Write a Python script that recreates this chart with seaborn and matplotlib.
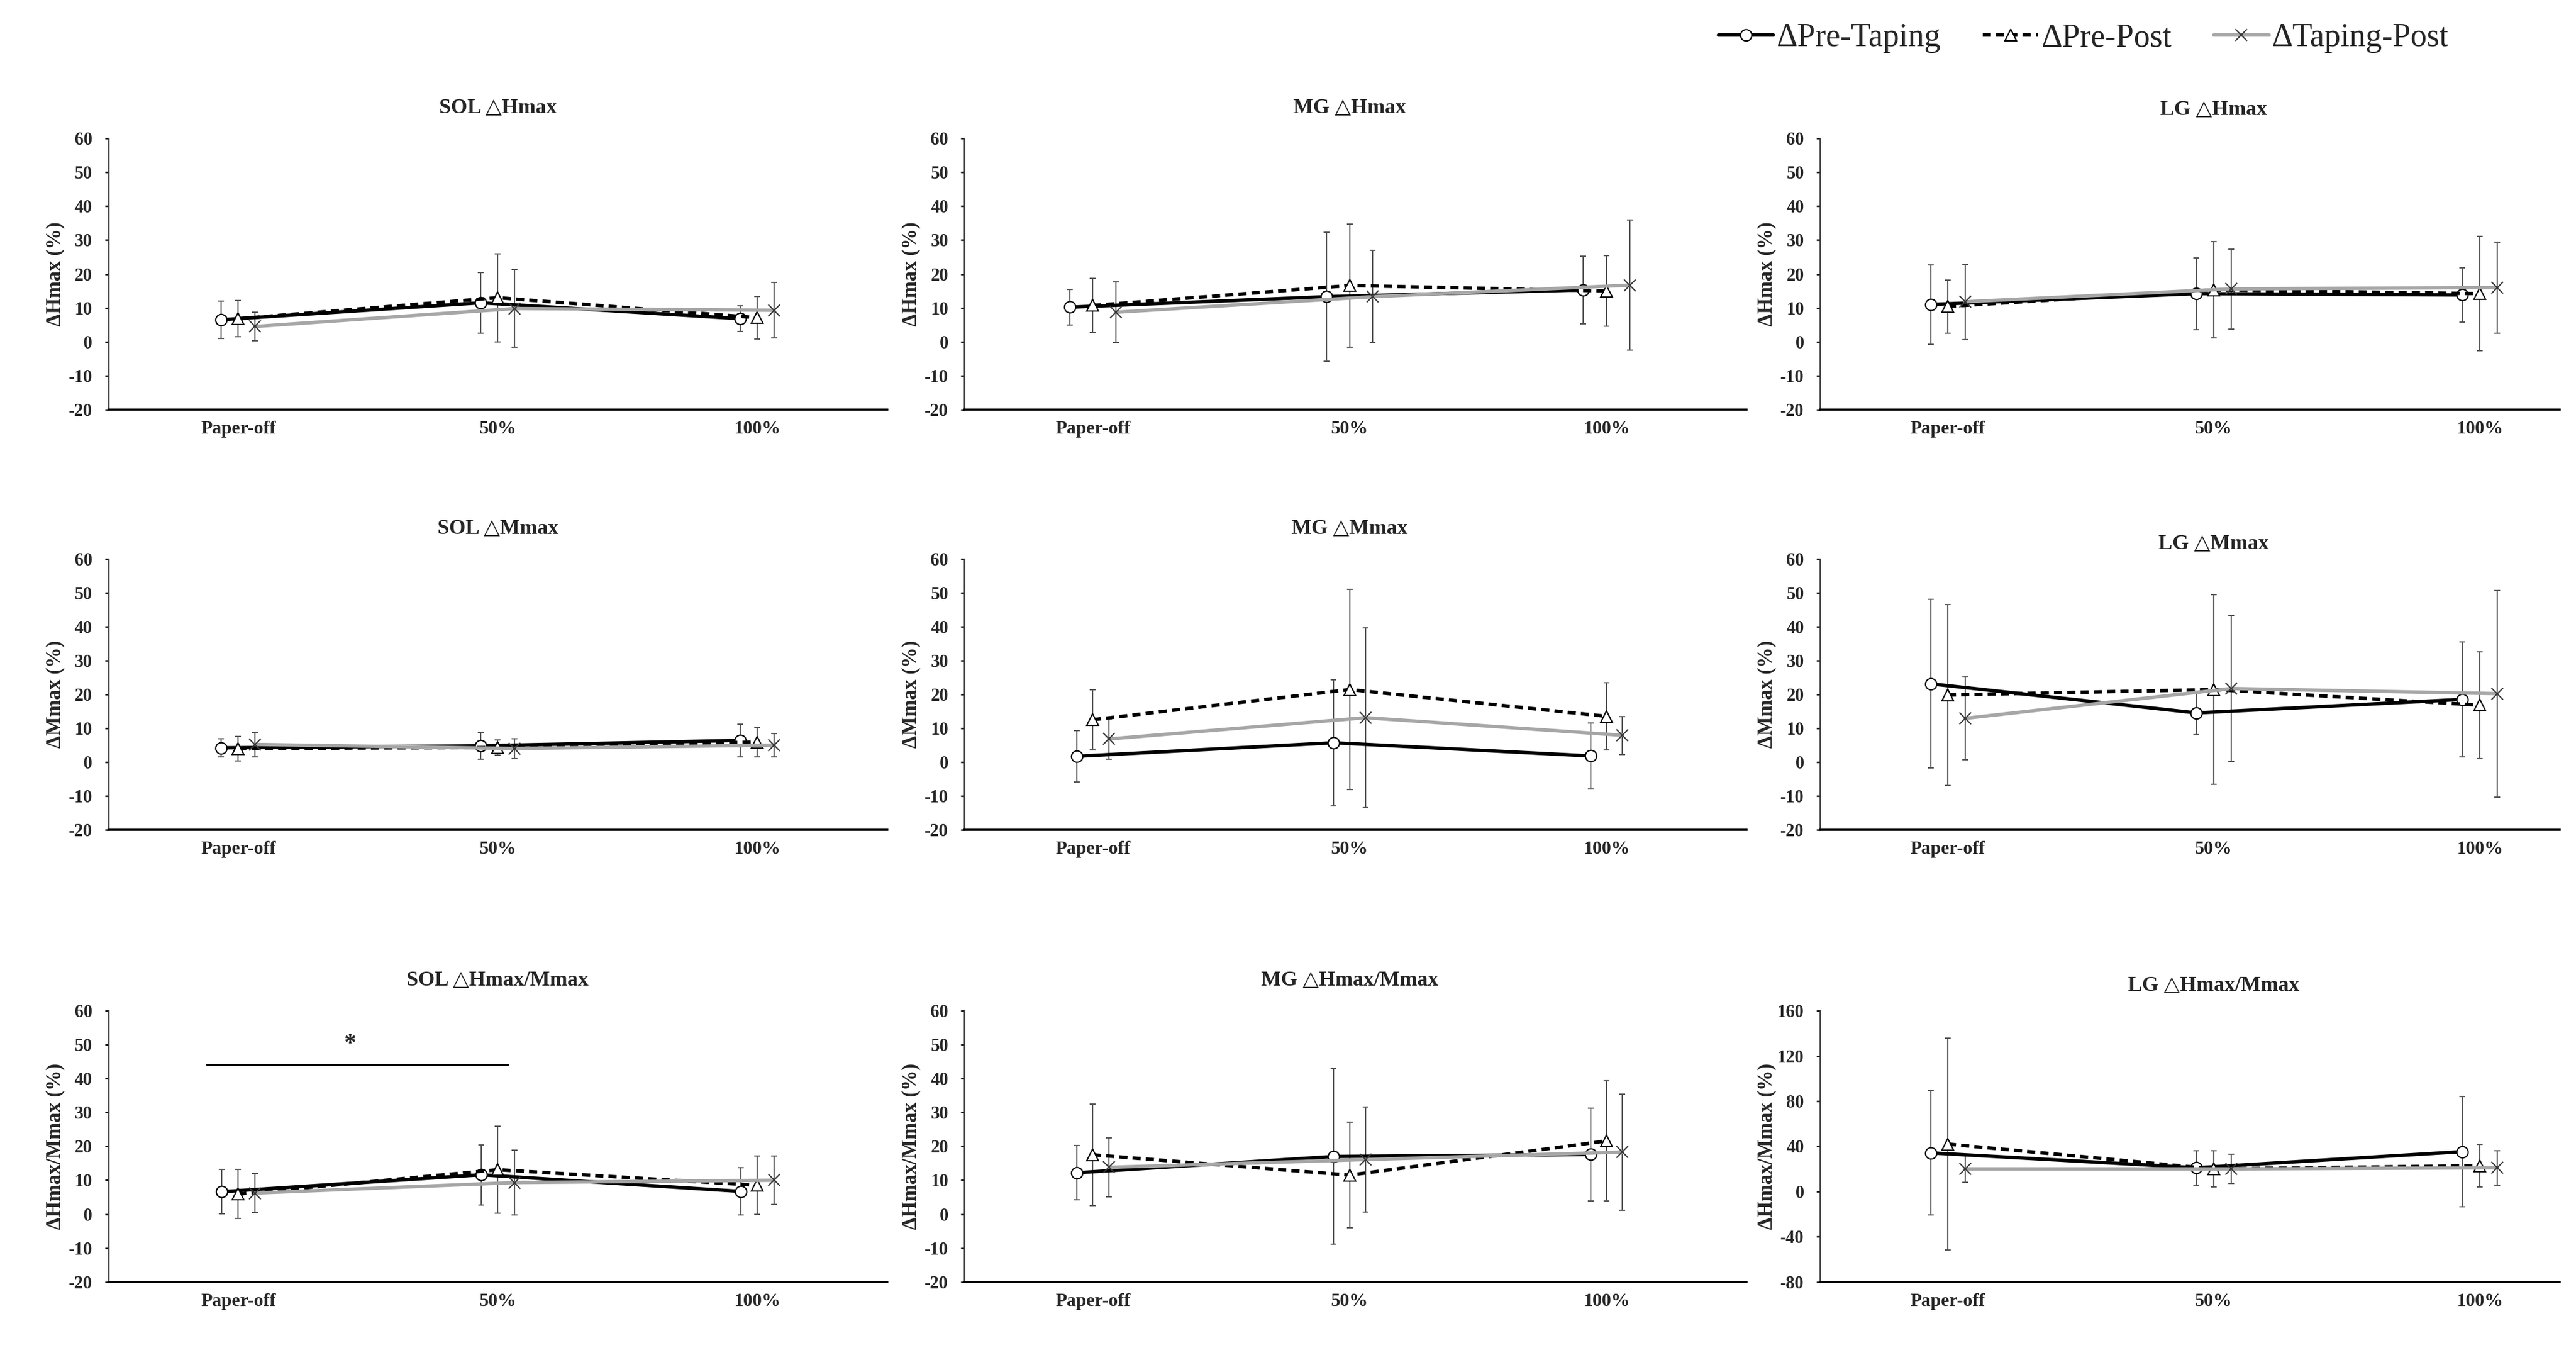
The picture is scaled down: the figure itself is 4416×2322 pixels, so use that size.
import numpy as np
import pandas as pd
import matplotlib
matplotlib.use("Agg")
import matplotlib.pyplot as plt
from matplotlib.lines import Line2D
from matplotlib.transforms import blended_transform_factory
import seaborn as sns

# ---------------- data ----------------
categories = ["Paper-off", "50%", "100%"]
series_names = ["ΔPre-Taping", "ΔPre-Post", "ΔTaping-Post"]

# rows: [Pre-Taping, Pre-Post, Taping-Post]; columns: [Paper-off, 50%, 100%]
sol_hmax_mean = [[6.5, 11.5, 6.8], [6.8, 13.0, 7.1], [4.5, 9.8, 9.3]]
sol_hmax_sd = [[5.5, 9.0, 3.8], [5.3, 13.0, 6.3], [4.3, 11.5, 8.2]]

mg_hmax_mean = [[10.2, 13.3, 15.3], [10.7, 16.6, 15.0], [8.7, 13.3, 16.7]]
mg_hmax_sd = [[5.2, 19.0, 10.0], [8.0, 18.2, 10.5], [9.0, 13.6, 19.2]]

lg_hmax_mean = [[11.0, 14.2, 13.8], [10.4, 15.3, 14.2], [11.8, 15.6, 16.0]]
lg_hmax_sd = [[11.7, 10.6, 8.0], [7.8, 14.2, 16.9], [11.1, 11.8, 13.4]]

sol_mmax_mean = [[4.2, 4.8, 6.4], [4.0, 4.3, 5.9], [5.2, 4.0, 5.0]]
sol_mmax_sd = [[2.7, 4.0, 4.8], [3.6, 2.2, 4.3], [3.6, 2.9, 3.4]]

mg_mmax_mean = [[1.7, 5.7, 1.8], [12.5, 21.4, 13.5], [6.8, 13.1, 7.9]]
mg_mmax_sd = [[7.6, 18.6, 9.7], [8.9, 29.6, 9.9], [5.9, 26.5, 5.6]]

lg_mmax_mean = [[23.1, 14.5, 18.5], [19.8, 21.4, 16.8], [12.9, 21.7, 20.2]]
lg_mmax_sd = [[24.9, 6.4, 17.0], [26.7, 28.0, 15.8], [12.3, 21.5, 30.5]]

sol_hm_mean = [[6.6, 11.6, 6.7], [5.9, 13.1, 8.5], [6.2, 9.3, 10.0]]
sol_hm_sd = [[6.5, 8.9, 7.0], [7.2, 12.9, 8.6], [5.7, 9.6, 7.1]]

mg_hm_mean = [[12.2, 17.0, 17.6], [17.5, 11.5, 21.6], [13.8, 16.1, 18.3]]
mg_hm_sd = [[8.0, 25.9, 13.7], [15.0, 15.6, 17.8], [8.7, 15.5, 17.1]]

lg_hm_mean = [[34.2, 21.0, 35.3], [42.0, 20.0, 22.9], [20.0, 20.0, 21.0]]
lg_hm_sd = [[55.0, 15.2, 48.6], [94.0, 16.1, 19.0], [12.0, 13.1, 15.2]]

titles = ["SOL △Hmax", "MG △Hmax", "LG △Hmax",
          "SOL △Mmax", "MG △Mmax", "LG △Mmax",
          "SOL △Hmax/Mmax", "MG △Hmax/Mmax", "LG △Hmax/Mmax"]
ylabels = ["ΔHmax (%)", "ΔMmax (%)", "ΔHmax/Mmax (%)"]

panel_means = [sol_hmax_mean, mg_hmax_mean, lg_hmax_mean,
               sol_mmax_mean, mg_mmax_mean, lg_mmax_mean,
               sol_hm_mean, mg_hm_mean, lg_hm_mean]
panel_sds = [sol_hmax_sd, mg_hmax_sd, lg_hmax_sd,
             sol_mmax_sd, mg_mmax_sd, lg_mmax_sd,
             sol_hm_sd, mg_hm_sd, lg_hm_sd]

default_ylim = (-20, 60)
default_yticks = list(range(-20, 61, 10))
lg_hm_ylim = (-80, 160)
lg_hm_yticks = list(range(-80, 161, 40))

# significance annotation (SOL Hmax/Mmax): Paper-off vs 50%
sig_x = [-0.12, 1.04]
sig_y = 44
sig_star_y = 50

# ---------------- style ----------------
sns.set_theme(style="white")
plt.rcParams["font.family"] = ["Liberation Serif", "DejaVu Sans"]
plt.rcParams["font.weight"] = "bold"
plt.rcParams["axes.unicode_minus"] = False

W, H = 4416, 2322
fig = plt.figure(figsize=(W / 100, H / 100), dpi=100)
fig.patch.set_facecolor("white")

col_left = [0.0421, 0.3744, 0.7066]
col_width = [0.3023, 0.3036, 0.2870]
row_bottom = [0.6978, 0.3876, 0.0540]
row_height = 0.2
col_xlim = [(-0.5, 2.5), (-0.5, 2.545), (-0.48, 2.30)]
title_offset = [37, 37, 35, 37, 37, 18, 37, 37, 31]
point_offset = [0.065, 0.09, 0.065, 0.065, 0.062, 0.065, 0.064, 0.062, 0.065]

styles = {
    "ΔPre-Taping": dict(color="black", linestyle="-", marker="o", markersize=14,
                        markerfacecolor="white", markeredgecolor="black",
                        markeredgewidth=1.6),
    "ΔPre-Post": dict(color="black", linestyle=(0, (2.4, 1.5)), marker="^",
                      markersize=14, markerfacecolor="white",
                      markeredgecolor="black", markeredgewidth=1.6),
    "ΔTaping-Post": dict(color="#a6a6a6", linestyle="-", marker="x",
                         markersize=14, markerfacecolor="none",
                         markeredgecolor="#3a3a3a", markeredgewidth=1.6),
}
line_w = 4.2
err_color = "#555555"

for i in range(9):
    r, c = divmod(i, 3)
    ax = fig.add_axes([col_left[c], row_bottom[r], col_width[c], row_height])
    ax.set_facecolor("white")
    means = panel_means[i]
    sds = panel_sds[i]
    off = point_offset[i]
    rows = []
    for s_idx, name in enumerate(series_names):
        for k in range(3):
            rows.append(dict(series=name, pos=k + (s_idx - 1) * off,
                             value=means[s_idx][k], sd=sds[s_idx][k]))
    df = pd.DataFrame(rows)

    for name in series_names:
        sub = df[df["series"] == name]
        ax.errorbar(sub["pos"], sub["value"], yerr=sub["sd"], fmt="none",
                    ecolor=err_color, elinewidth=1.6, capsize=3.5,
                    capthick=1.6, zorder=2)
    for name in series_names:
        sub = df[df["series"] == name]
        sns.lineplot(data=sub, x="pos", y="value", ax=ax, errorbar=None,
                     linewidth=line_w, zorder=3, **styles[name])

    if i == 8:
        ax.set_ylim(*lg_hm_ylim)
        ax.set_yticks(lg_hm_yticks)
    else:
        ax.set_ylim(*default_ylim)
        ax.set_yticks(default_yticks)
    ax.set_xlim(*col_xlim[c])
    ax.set_xticks([0, 1, 2])
    ax.set_xticklabels(categories, fontsize=23, fontweight="bold")
    ax.tick_params(axis="x", length=0, pad=14)
    ax.tick_params(axis="y", direction="out", length=4, width=1.8,
                   pad=16, labelsize=22, color="black", left=True)
    for lbl in ax.get_yticklabels():
        lbl.set_fontweight("bold")
    ax.set_xlabel("")
    ax.set_ylabel(ylabels[r], fontsize=25, fontweight="bold")
    ax.yaxis.set_label_coords(-75 / (col_width[c] * W), 0.5)

    for sp in ["top", "right"]:
        ax.spines[sp].set_visible(False)
    ax.spines["left"].set_color("#3a3a3a")
    ax.spines["left"].set_linewidth(1.8)
    ax.spines["bottom"].set_color("black")
    ax.spines["bottom"].set_linewidth(2.6)
    ax.grid(False)

    trans = blended_transform_factory(ax.transData, ax.transAxes)
    ax.annotate(titles[i], xy=(1, 1), xycoords=trans,
                xytext=(0, title_offset[i]), textcoords="offset points",
                ha="center", va="center", fontsize=26, fontweight="bold",
                annotation_clip=False)

    if i == 6:
        ax.plot(sig_x, [sig_y, sig_y], color="black", linewidth=2.6, zorder=4)
        ax.text(np.mean(sig_x) - 0.03, sig_star_y, "*", ha="center",
                va="center", fontsize=30, fontweight="bold")

# ---------------- legend ----------------
handles = [Line2D([0], [0], linewidth=line_w, **styles[n]) for n in series_names]
fig.legend(handles, series_names, loc="center right",
           bbox_to_anchor=(0.962, 0.972), ncol=3, frameon=False,
           prop=dict(family=["Liberation Serif", "DejaVu Sans"],
                     weight="normal", size=40),
           handlelength=1.7, handletextpad=0.1, columnspacing=1.3)

fig.savefig("out.png", dpi=100, facecolor="white")
